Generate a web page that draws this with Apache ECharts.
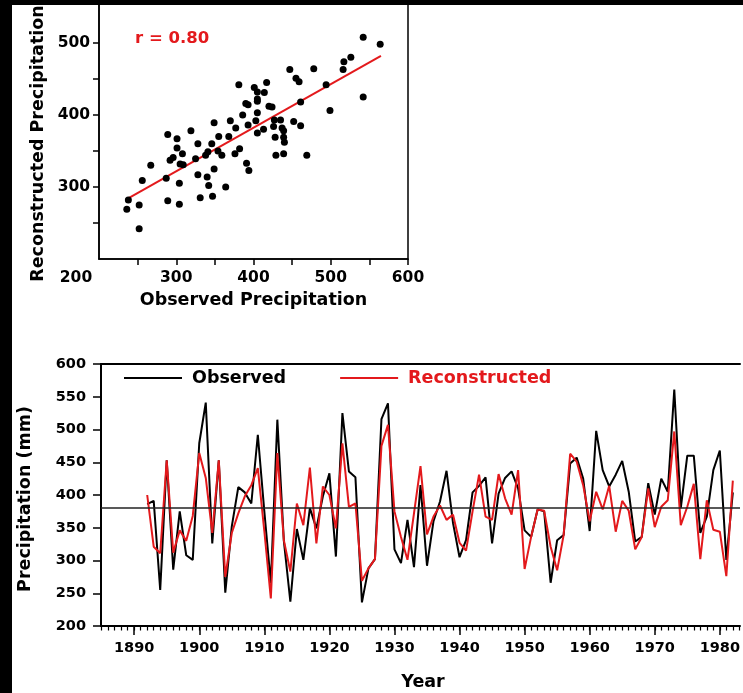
<!DOCTYPE html>
<html>
<head>
<meta charset="utf-8">
<title>Observed vs reconstructed precipitation</title>
<script src="https://cdn.jsdelivr.net/npm/echarts@6/dist/echarts.min.js"></script>
<style>
  html, body { margin: 0; padding: 0; background: #fff; }
  #chart { width: 743px; height: 693px; }
</style>
</head>
<body>
<div id="chart"></div>
<script>
const FONT = 'DejaVu Sans'
const RED = '#e3191c'

// top panel: observed vs reconstructed (one pair per year)
const scatterObs = [542, 564, 526, 517, 516, 447, 478, 455, 459, 417, 381, 401, 405, 414, 494, 542, 405, 405, 461, 390,
  393, 420, 424, 499, 386, 405, 403, 427, 435, 452, 461, 426, 437, 370, 393, 377, 413, 405, 439, 319,
  349, 355, 368, 428, 439, 440, 289, 301, 328, 346, 382, 354, 341, 338, 359, 376, 429, 439, 469, 301,
  308, 296, 292, 325, 267, 305, 309, 391, 349, 394, 287, 328, 340, 256, 304, 342, 364, 331, 347, 289,
  238, 304, 252, 236, 252]
const scatterRec = [508, 498, 480, 474, 463, 463, 464, 451, 446, 445, 442, 438, 432, 431, 442, 425, 422, 419, 418, 416,
  414, 412, 411, 406, 400, 403, 392, 393, 393, 391, 385, 384, 382, 392, 386, 382, 380, 375, 378, 378,
  389, 370, 370, 369, 369, 362, 373, 367, 360, 360, 353, 350, 349, 344, 344, 346, 344, 346, 344, 354,
  346, 341, 337, 339, 330, 332, 331, 333, 325, 323, 312, 317, 314, 309, 305, 302, 300, 285, 287, 281,
  282, 276, 275, 269, 242]
const fitLine = [[236, 283], [565, 482]]
const rText = 'r = 0.80'

// bottom panel: yearly series 1892-1982
const firstYear = 1892
const observed = [386, 391, 255, 453, 286, 375, 308, 301, 479, 541,
  326, 453, 251, 352, 412, 404, 387, 492, 375, 265,
  515, 330, 237, 348, 301, 380, 349, 398, 433, 306,
  525, 436, 427, 236, 288, 302, 516, 540, 317, 296,
  362, 290, 415, 292, 360, 390, 437, 357, 305, 331,
  404, 414, 427, 326, 402, 426, 436, 410, 346, 336,
  378, 375, 266, 331, 339, 448, 457, 425, 345, 498,
  438, 413, 431, 452, 405, 329, 336, 418, 370, 425,
  405, 561, 380, 460, 460, 342, 367, 438, 468, 301, 404]
const reconstructed = [400, 321, 311, 453, 312, 346, 330, 368, 464, 426,
  342, 453, 275, 342, 372, 398, 415, 441, 345, 242,
  464, 331, 283, 387, 354, 442, 326, 413, 400, 349,
  479, 382, 387, 269, 288, 302, 475, 507, 375, 336,
  301, 372, 444, 340, 367, 384, 362, 370, 327, 315,
  375, 431, 367, 362, 432, 395, 370, 438, 287, 336,
  378, 376, 321, 285, 339, 463, 451, 415, 360, 405,
  378, 414, 344, 391, 376, 317, 336, 410, 351, 382,
  392, 497, 354, 382, 417, 302, 392, 347, 344, 276, 422]
const meanValue = 380
const yearLabels = [1890, 1900, 1910, 1920, 1930, 1940, 1950, 1960, 1970, 1980]

const minorYears = []
for (let y = 1885; y <= 1983; y++) minorYears.push(y)

const scatterData = scatterObs.map((v, i) => [v, scatterRec[i]])
const obsData = observed.map((v, i) => [firstYear + i, v])
const recData = reconstructed.map((v, i) => [firstYear + i, v])

const axisColor = '#000'
const tickStyle = { color: axisColor, width: 1.5 }
const labelBase = { color: '#000', fontFamily: FONT, fontWeight: 'bold' }
const titleFont = 'bold 17.5px "DejaVu Sans"'
const yearMin = 1884.9
const yearMax = 1983.1

const chart = echarts.init(document.getElementById('chart'))

chart.setOption({
  animation: false,
  backgroundColor: '#fff',
  grid: [
    { left: 99, top: 4, width: 309, height: 255, show: true, borderColor: axisColor, borderWidth: 1.5 },
    { left: 101, top: 364, right: 0, height: 262 },
  ],
  legend: {
    left: 124,
    top: 369,
    padding: 0,
    icon: 'rect',
    itemWidth: 58,
    itemHeight: 2,
    itemGap: 54,
    textStyle: { ...labelBase, fontSize: 17.5, padding: [0, 0, 0, 5] },
    data: [
      { name: 'Observed', textStyle: { color: '#000' } },
      { name: 'Reconstructed', textStyle: { color: RED } },
    ],
  },
  xAxis: [
    {
      gridIndex: 0,
      type: 'value',
      min: 200,
      max: 600,
      axisLine: { show: true, onZero: false, lineStyle: tickStyle },
      axisTick: { show: true, length: 6, customValues: [250, 300, 350, 400, 450, 500, 550, 600], lineStyle: tickStyle },
      axisLabel: {
        ...labelBase,
        fontSize: 15.5,
        margin: 11,
        customValues: [200, 300, 400, 500, 600],
        formatter: v => (v === 200 ? '{first|200}' : String(v)),
        rich: { first: { ...labelBase, fontSize: 15.5, padding: [0, 46, 0, 0] } },
      },
      splitLine: { show: false },
    },
    {
      gridIndex: 1,
      type: 'value',
      position: 'bottom',
      min: yearMin,
      max: yearMax,
      axisLine: { show: true, onZero: false, lineStyle: { color: axisColor, width: 2 } },
      axisTick: { show: true, length: 9, customValues: yearLabels, lineStyle: tickStyle },
      axisLabel: { ...labelBase, fontSize: 14.5, margin: 15, customValues: yearLabels, formatter: v => String(v) },
      splitLine: { show: false },
    },
    {
      // yearly minor ticks
      gridIndex: 1,
      type: 'value',
      position: 'bottom',
      min: yearMin,
      max: yearMax,
      axisLine: { show: false },
      axisTick: { show: true, length: 4.5, customValues: minorYears, lineStyle: { color: axisColor, width: 1.2 } },
      axisLabel: { show: false },
      splitLine: { show: false },
    },
    {
      // top frame line
      gridIndex: 1,
      type: 'value',
      position: 'top',
      min: yearMin,
      max: yearMax,
      axisLine: { show: true, onZero: false, lineStyle: { color: axisColor, width: 2 } },
      axisTick: { show: false },
      axisLabel: { show: false },
      splitLine: { show: false },
    },
  ],
  yAxis: [
    {
      gridIndex: 0,
      type: 'value',
      min: 200,
      max: 554,
      axisLine: { show: true, onZero: false, lineStyle: tickStyle },
      axisTick: { show: true, length: 6, customValues: [250, 300, 350, 400, 450, 500], lineStyle: tickStyle },
      axisLabel: { ...labelBase, fontSize: 15.5, margin: 9, customValues: [300, 400, 500] },
      splitLine: { show: false },
    },
    {
      gridIndex: 1,
      type: 'value',
      min: 200,
      max: 600,
      interval: 50,
      axisLine: { show: true, onZero: false, lineStyle: { color: axisColor, width: 2 } },
      axisTick: { show: true, length: 8, lineStyle: tickStyle },
      axisLabel: { ...labelBase, fontSize: 14.5, margin: 15 },
      splitLine: { show: false },
    },
  ],
  series: [
    {
      type: 'line',
      xAxisIndex: 0,
      yAxisIndex: 0,
      data: fitLine,
      symbol: 'none',
      lineStyle: { color: RED, width: 2 },
      z: 1,
    },
    {
      type: 'scatter',
      xAxisIndex: 0,
      yAxisIndex: 0,
      data: scatterData,
      symbolSize: 7,
      itemStyle: { color: '#000', opacity: 1 },
      z: 2,
    },
    {
      name: 'Observed',
      type: 'line',
      xAxisIndex: 1,
      yAxisIndex: 1,
      data: obsData,
      symbol: 'none',
      color: '#000',
      lineStyle: { color: '#000', width: 2 },
      markLine: {
        silent: true,
        symbol: 'none',
        label: { show: false },
        lineStyle: { color: '#222', type: 'solid', width: 1.5 },
        data: [{ yAxis: meanValue }],
      },
    },
    {
      name: 'Reconstructed',
      type: 'line',
      xAxisIndex: 1,
      yAxisIndex: 1,
      data: recData,
      symbol: 'none',
      color: RED,
      lineStyle: { color: RED, width: 2 },
    },
  ],
  graphic: [
    {
      type: 'text', x: 135, y: 39, z: 50,
      style: { text: rText, font: 'bold 16.5px "DejaVu Sans"', fill: RED, verticalAlign: 'middle', textVerticalAlign: 'middle' },
    },
    {
      type: 'text', x: 38, y: 143.5, rotation: Math.PI / 2, z: 50,
      style: { text: 'Reconstructed Precipitation', font: titleFont, fill: '#000', align: 'center', textAlign: 'center', verticalAlign: 'middle', textVerticalAlign: 'middle' },
    },
    {
      type: 'text', x: 253.5, y: 300.5, z: 50,
      style: { text: 'Observed Precipitation', font: titleFont, fill: '#000', align: 'center', textAlign: 'center', verticalAlign: 'middle', textVerticalAlign: 'middle' },
    },
    {
      type: 'text', x: 25.5, y: 499, rotation: Math.PI / 2, z: 50,
      style: { text: 'Precipitation (mm)', font: titleFont, fill: '#000', align: 'center', textAlign: 'center', verticalAlign: 'middle', textVerticalAlign: 'middle' },
    },
    {
      type: 'text', x: 423, y: 682, z: 50,
      style: { text: 'Year', font: titleFont, fill: '#000', align: 'center', textAlign: 'center', verticalAlign: 'middle', textVerticalAlign: 'middle' },
    },
    // black frame edges of the original image
    { type: 'rect', z: 100, shape: { x: 0, y: 0, width: 743, height: 5 }, style: { fill: '#000' } },
    { type: 'rect', z: 100, shape: { x: 0, y: 0, width: 12, height: 693 }, style: { fill: '#000' } },
  ],
})
</script>
</body>
</html>
